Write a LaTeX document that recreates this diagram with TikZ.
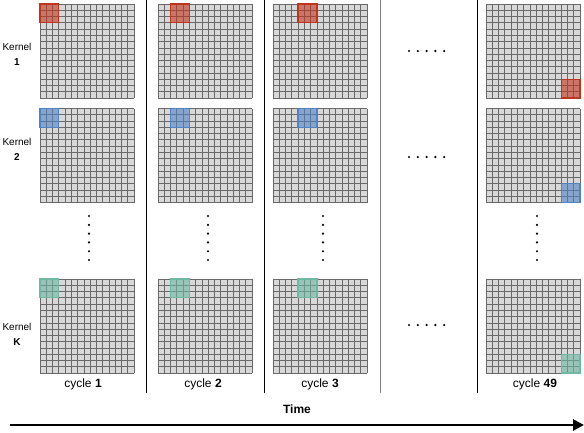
\documentclass[tikz,border=0pt]{standalone}
\usepackage{fontspec}
\setmainfont{Liberation Sans}
\usetikzlibrary{arrows.meta}

\definecolor{cellgray}{RGB}{216,216,216}
\definecolor{linegray}{RGB}{105,105,105}
\definecolor{kred}{RGB}{192,52,30}
\definecolor{kblue}{RGB}{80,130,196}
\definecolor{kteal}{RGB}{110,184,164}

% one 15x15 input map with its 3x3 kernel window
% #1,#2 top-left corner, #3,#4 window cell, #5 window colour
\newcommand{\cellsz}{6.27}
\newcommand{\convgrid}[5]{%
  \begin{scope}[shift={(#1,#2)}]
    \fill[cellgray] (0,0) rectangle (15*\cellsz,15*\cellsz);
    \foreach \i in {0,...,15} {
      \draw[gridline] (\i*\cellsz,0) -- (\i*\cellsz,15*\cellsz);
      \draw[gridline] (0,\i*\cellsz) -- (15*\cellsz,\i*\cellsz);
    }
    \fill[#5, opacity=0.6] (#3*\cellsz,#4*\cellsz) rectangle ++(3*\cellsz,3*\cellsz);
    \draw[#5, line width=1.3pt] (#3*\cellsz,#4*\cellsz) rectangle ++(3*\cellsz,3*\cellsz);
  \end{scope}}

\begin{document}
\begin{tikzpicture}[x=1pt, y=-1pt,
  gridline/.style={linegray, line width=0.75pt},
  divider/.style={line width=1pt},
  kernlbl/.style={font=\fontsize{10}{15}\selectfont, align=center},
  cyclelbl/.style={font=\fontsize{12}{14}\selectfont},
  timelbl/.style={font=\fontsize{12}{14}\selectfont\bfseries},
  dotmark/.style={black}]
\useasboundingbox (0,0) rectangle (584,432);

% Column dividers
\draw[divider] (146,0) -- (146,393);
\draw[divider] (264,0) -- (264,393);
\draw[divider, gray] (380,0) -- (380,393);
\draw[divider] (477,0) -- (477,393);

% Kernel 1 (red)
\convgrid{40}{4}{0}{0}{kred}
\convgrid{158}{4}{2}{0}{kred}
\convgrid{273}{4}{4}{0}{kred}
\convgrid{486}{4}{12}{12}{kred}

% Kernel 2 (blue)
\convgrid{40}{108.5}{0}{0}{kblue}
\convgrid{158}{108.5}{2}{0}{kblue}
\convgrid{273}{108.5}{4}{0}{kblue}
\convgrid{486}{108.5}{12}{12}{kblue}

% Kernel K (teal)
\convgrid{40}{279}{0}{0}{kteal}
\convgrid{158}{279}{2}{0}{kteal}
\convgrid{273}{279}{4}{0}{kteal}
\convgrid{486}{279}{12}{12}{kteal}

% Row labels
\node[kernlbl] (kern1) at (17,54.5) {Kernel\\\textbf{1}};
\node[kernlbl] (kern2) at (17,149.5) {Kernel\\\textbf{2}};
\node[kernlbl] (kernK) at (17,334.5) {Kernel\\\textbf{K}};

% Vertical dots between kernel 2 and kernel K
\foreach \x in {89,208,323,537}
  \foreach \k in {0,...,5}
    \fill[dotmark] (\x,216+8.8*\k) circle (1.2pt);

% Horizontal dots for the skipped cycles
\foreach \y in {51,157,325}
  \foreach \k in {0,...,4}
    \fill[dotmark] (409+8.8*\k,\y) circle (1.2pt);

% Cycle labels
\node[cyclelbl] (cyc1) at (83,384) {cycle \textbf{1}};
\node[cyclelbl] (cyc2) at (203,384) {cycle \textbf{2}};
\node[cyclelbl] (cyc3) at (320,384) {cycle \textbf{3}};
\node[cyclelbl] (cyc49) at (535,384) {cycle \textbf{49}};

% Time axis
\node[timelbl] (time) at (297,409) {Time};
\coordinate (tstart) at (10,425);
\coordinate (tend) at (584,425);
\draw[line width=2.8pt, -{Triangle[length=11pt,width=11pt]}] (tstart) -- (tend);

\end{tikzpicture}
\end{document}
